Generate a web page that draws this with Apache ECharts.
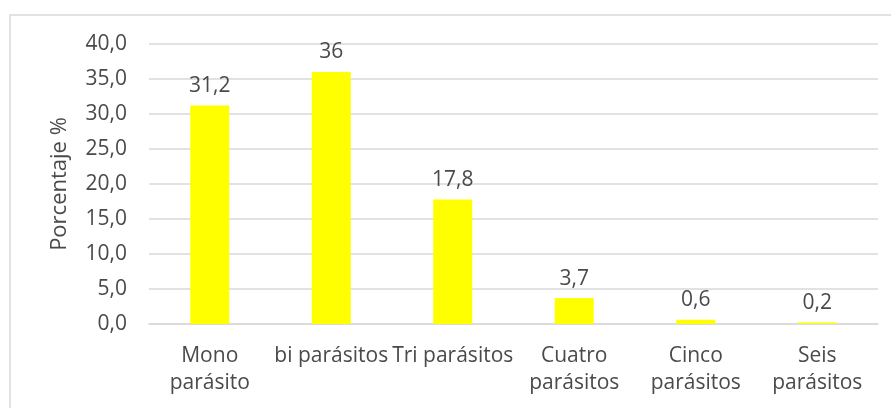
<!DOCTYPE html>
<html>
<head>
<meta charset="utf-8">
<script src="https://cdn.jsdelivr.net/npm/echarts@6/dist/echarts.min.js"></script>
<style>
  html, body { margin: 0; padding: 0; background: #ffffff; }
  #chart { width: 891px; height: 408px; }
</style>
</head>
<body>
<div id="chart"></div>
<script>
// Number of parasites per sample, as a percentage
const categories = ['Mono\nparásito', 'bi parásitos', 'Tri parásitos', 'Cuatro\nparásitos', 'Cinco\nparásitos', 'Seis\nparásitos'];
const values = [31.2, 36, 17.8, 3.7, 0.6, 0.2];
const valueLabels = ['31,2', '36', '17,8', '3,7', '0,6', '0,2'];
const yTicks = { min: 0, max: 40, interval: 5 };
const yTitle = 'Porcentaje %';

const FONT = '"Open Sans", "Noto Sans", sans-serif';
const TEXT = '#4a4a4a';

const chart = echarts.init(document.getElementById('chart'), null, { renderer: 'canvas' });
chart.setOption({
  backgroundColor: '#ffffff',
  animation: false,
  textStyle: { fontFamily: FONT },
  graphic: [{
    type: 'rect',
    shape: { x: 10, y: 15, width: 900, height: 420 },
    style: { fill: 'none', stroke: '#d9d9d9', lineWidth: 1.5 },
    silent: true,
    z: -1
  }],
  grid: { left: 149, right: 13, top: 44, bottom: 84 },
  xAxis: {
    type: 'category',
    data: categories,
    axisLine: { show: true, lineStyle: { color: '#d9d9d9', width: 1.5 } },
    axisTick: { show: false },
    axisLabel: {
      interval: 0,
      color: TEXT,
      fontFamily: FONT,
      fontSize: 21,
      lineHeight: 27,
      margin: 19
    }
  },
  yAxis: {
    type: 'value',
    min: yTicks.min,
    max: yTicks.max,
    interval: yTicks.interval,
    name: yTitle,
    nameLocation: 'middle',
    nameGap: 78,
    nameTextStyle: { color: TEXT, fontFamily: FONT, fontSize: 22 },
    axisLine: { show: false },
    axisTick: { show: false },
    splitLine: { lineStyle: { color: '#d9d9d9', width: 1.5 } },
    axisLabel: {
      color: TEXT,
      fontFamily: FONT,
      fontSize: 21,
      margin: 22,
      formatter: v => v.toFixed(1).replace('.', ',')
    }
  },
  series: [{
    type: 'bar',
    data: values,
    barWidth: 39,
    itemStyle: { color: '#ffff00' },
    label: {
      show: true,
      position: 'top',
      distance: 9,
      color: TEXT,
      fontFamily: FONT,
      fontSize: 21,
      formatter: p => valueLabels[p.dataIndex]
    }
  }]
});
</script>
</body>
</html>
